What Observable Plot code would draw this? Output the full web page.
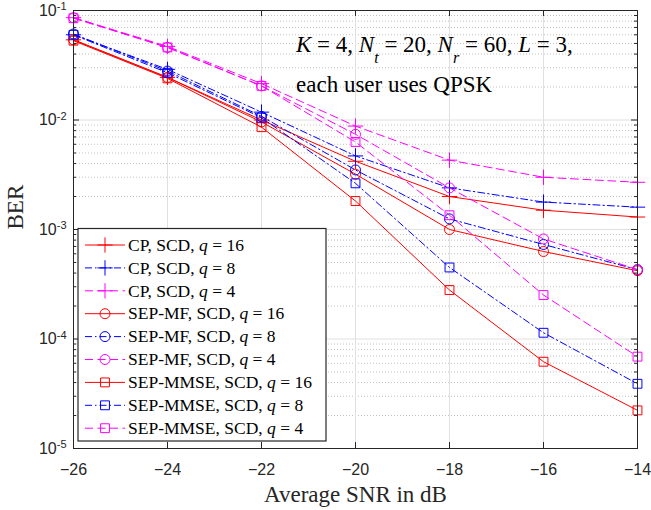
<!DOCTYPE html>
<html><head><meta charset="utf-8">
<script src="https://cdn.jsdelivr.net/npm/d3@7"></script>
<script src="https://cdn.jsdelivr.net/npm/@observablehq/plot@0.6"></script>
<style>body{margin:0;background:#fff} svg{display:block}</style>
</head><body><div id="chart"></div>
<script>
// ---- data ----
const snr = [-26, -24, -22, -20, -18, -16, -14];
const cpQ16   = [0.054, 0.0245, 0.0100, 0.0042, 0.0020, 0.0015, 0.0013];
const cpQ8    = [0.060, 0.029, 0.0118, 0.0047, 0.0024, 0.00178, 0.0016];
const cpQ4    = [0.086, 0.047, 0.0215, 0.0088, 0.0043, 0.0030, 0.0027];
const mfQ16   = [0.054, 0.0245, 0.0096, 0.0032, 0.0010, 0.00063, 0.00042];
const mfQ8    = [0.061, 0.028, 0.0108, 0.0035, 0.00125, 0.00073, 0.00043];
const mfQ4    = [0.086, 0.046, 0.0205, 0.0074, 0.0024, 0.00082, 0.00043];
const mmseQ16 = [0.053, 0.024, 0.0086, 0.00182, 0.00028, 0.000062, 0.0000223];
const mmseQ8  = [0.060, 0.027, 0.0105, 0.00264, 0.00045, 0.000114, 0.000039];
const mmseQ4  = [0.085, 0.046, 0.0205, 0.0063, 0.00135, 0.000252, 0.000069];
const seriesValues = [cpQ16, cpQ8, cpQ4, mfQ16, mfQ8, mfQ4, mmseQ16, mmseQ8, mmseQ4];
const seriesPrefix = ["CP, SCD, ", "CP, SCD, ", "CP, SCD, ",
  "SEP-MF, SCD, ", "SEP-MF, SCD, ", "SEP-MF, SCD, ",
  "SEP-MMSE, SCD, ", "SEP-MMSE, SCD, ", "SEP-MMSE, SCD, "];
const seriesQ = [16, 8, 4, 16, 8, 4, 16, 8, 4];
const xTicks = [-26, -24, -22, -20, -18, -16, -14];
const yTicks = [1e-5, 1e-4, 1e-3, 1e-2, 1e-1];
const xLabel = "Average SNR in dB";
const yLabel = "BER";

// ---- styles ----
const qColor = {16: "#ff0000", 8: "#0000ff", 4: "#ff00ff"};
const qDash = {16: null, 8: "7,3,1.5,3", 4: "8,4.5"};
const familySymbol = ["plus", "plus", "plus", "circle", "circle", "circle", "square", "square", "square"];
const serif = "'Liberation Serif', 'Times New Roman', serif";
const sans = "'Liberation Sans', Arial, sans-serif";

const yMinor = [];
for (let e = -5; e < -1; e++) for (let m = 2; m <= 9; m++) yMinor.push(m * Math.pow(10, e));

const rows = seriesValues.flatMap((vals, i) => vals.map((v, j) => ({x: snr[j], y: v, s: i})));

const W = 651, H = 510, mL = 73, mR = 14, mT = 10, mB = 62;
const pw = W - mL - mR, ph = H - mT - mB;
const axisColor = "#262626";

const marks = [
  Plot.gridY(yMinor, {stroke: "#c2c2c2", strokeOpacity: 1, strokeDasharray: "1,2"}),
  Plot.gridY(yTicks, {stroke: "#e0e0e0", strokeOpacity: 1}),
  Plot.gridX(xTicks, {stroke: "#e0e0e0", strokeOpacity: 1}),
];
seriesValues.forEach((vals, i) => {
  const d = rows.filter(r => r.s === i);
  const q = seriesQ[i];
  marks.push(Plot.line(d, {x: "x", y: "y", stroke: qColor[q], strokeWidth: 1, strokeDasharray: qDash[q]}));
  marks.push(Plot.dot(d, {x: "x", y: "y", stroke: qColor[q], fill: "none", r: 5, strokeWidth: 1, symbol: familySymbol[i]}));
});
marks.push(
  // inward ticks (left/right/top/bottom)
  Plot.tickY(yTicks, {y: d => d, insetRight: pw - 6, stroke: axisColor}),
  Plot.tickY(yMinor, {y: d => d, insetRight: pw - 3, stroke: axisColor}),
  Plot.tickY(yTicks, {y: d => d, insetLeft: pw - 6, stroke: axisColor}),
  Plot.tickY(yMinor, {y: d => d, insetLeft: pw - 3, stroke: axisColor}),
  Plot.tickX(xTicks, {x: d => d, insetTop: ph - 6, stroke: axisColor}),
  Plot.tickX(xTicks, {x: d => d, insetBottom: ph - 6, stroke: axisColor}),
  Plot.frame({stroke: axisColor, strokeWidth: 1}),
  Plot.axisX(xTicks, {tickSize: 0, tickPadding: 15, label: null, fontSize: 16, fontFamily: sans, fill: axisColor}),
  Plot.axisY(yTicks, {tickSize: 0, tickPadding: 7, label: null, fontSize: 16, fontFamily: sans, fill: axisColor,
    tickFormat: d => "10^" + Math.round(Math.log10(d))}),
  Plot.text([xLabel], {frameAnchor: "bottom", dy: 53, lineAnchor: "bottom", text: d => d, fontFamily: serif, fontSize: 23, fill: axisColor}),
  Plot.text([yLabel], {frameAnchor: "left", dx: -58, rotate: -90, text: d => d, fontFamily: serif, fontSize: 23, fill: axisColor})
);

const chart = Plot.plot({
  width: W, height: H,
  marginLeft: mL, marginRight: mR, marginTop: mT, marginBottom: mB,
  style: {fontFamily: sans, background: "#fff", overflow: "visible"},
  x: {domain: [-26, -14]},
  y: {type: "log", domain: [1e-5, 1e-1]},
  marks
});
document.getElementById("chart").appendChild(chart);

const svg = d3.select(chart);
// superscript exponents on y tick labels
svg.selectAll('g[aria-label="y-axis tick label"] text').each(function () {
  const t = d3.select(this);
  const parts = t.text().split("^");
  t.text("");
  t.append("tspan").text(parts[0]);
  t.append("tspan").attr("dy", "-0.5em").attr("font-size", 11).text(parts[1]);
});

// annotation
const ann = svg.append("g").attr("font-family", serif).attr("font-size", 23).attr("fill", "#000").attr("text-anchor", "start");
const l1 = ann.append("text").attr("x", 296).attr("y", 52);
l1.append("tspan").attr("font-style", "italic").text("K");
l1.append("tspan").text(" = 4, ");
l1.append("tspan").attr("font-style", "italic").text("N");
l1.append("tspan").attr("font-style", "italic").attr("font-size", 16).attr("dy", 11).text("t");
l1.append("tspan").attr("dy", -11).text(" = 20, ");
l1.append("tspan").attr("font-style", "italic").text("N");
l1.append("tspan").attr("font-style", "italic").attr("font-size", 16).attr("dy", 11).text("r");
l1.append("tspan").attr("dy", -11).text(" = 60, ");
l1.append("tspan").attr("font-style", "italic").text("L");
l1.append("tspan").text(" = 3,");
ann.append("text").attr("x", 296).attr("y", 92).text("each user uses QPSK");

// legend
const leg = svg.append("g").attr("text-anchor", "start");
const lx = 78, ly = 228.5, lw = 248, lh = 212.5, row0 = 245, rowH = 22.9;
leg.append("rect").attr("x", lx).attr("y", ly).attr("width", lw).attr("height", lh)
  .attr("fill", "#fff").attr("stroke", axisColor).attr("stroke-width", 1.2);
const symMap = {plus: d3.symbolPlus, circle: d3.symbolCircle, square: d3.symbolSquare};
seriesValues.forEach((vals, i) => {
  const q = seriesQ[i];
  const cy = row0 + i * rowH;
  leg.append("line").attr("x1", 85).attr("x2", 125).attr("y1", cy).attr("y2", cy)
    .attr("stroke", qColor[q]).attr("stroke-width", 1).attr("stroke-dasharray", qDash[q]);
  leg.append("path").attr("transform", `translate(105,${cy})`)
    .attr("d", d3.symbol(symMap[familySymbol[i]], Math.PI * 25)())
    .attr("fill", "none").attr("stroke", qColor[q]).attr("stroke-width", 1);
  const t = leg.append("text").attr("x", 128).attr("y", cy).attr("dy", "0.33em")
    .attr("font-family", serif).attr("font-size", 17.5).attr("fill", "#000");
  t.append("tspan").text(seriesPrefix[i]);
  t.append("tspan").attr("font-style", "italic").text("q");
  t.append("tspan").text(" = " + q);
});
</script>
</body></html>
